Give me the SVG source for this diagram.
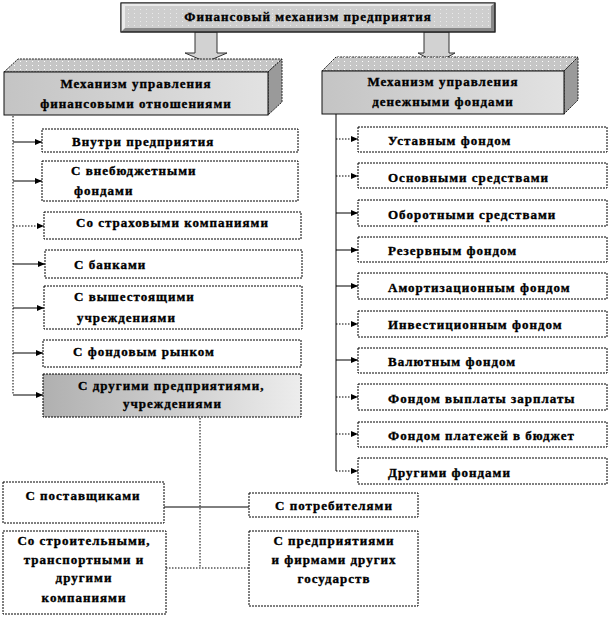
<svg xmlns="http://www.w3.org/2000/svg" width="611" height="617" viewBox="0 0 611 617">
<defs>
<style>
.t{font-family:"Liberation Serif","Times New Roman",serif;font-weight:bold;font-size:13px;letter-spacing:1px;fill:#000;stroke:#000;stroke-width:0.35}
.m{text-anchor:middle}
.box{fill:#fff;stroke:#000;stroke-width:1;stroke-dasharray:2 1}
.face{stroke:#222;stroke-width:1;stroke-dasharray:2 1}
.sl{fill:none;stroke:#000;stroke-width:1}
.dl{fill:none;stroke:#000;stroke-width:1;stroke-dasharray:1.5 1.5}
.ba{fill:#d2d2d2;stroke:#333;stroke-width:1}
</style>
<linearGradient id="gFront" x1="0" y1="0" x2="1" y2="0">
<stop offset="0" stop-color="#c4c4c4"/>
<stop offset="1" stop-color="#e2e2e2"/>
</linearGradient>
<linearGradient id="gItem" x1="0" y1="0" x2="1" y2="0">
<stop offset="0" stop-color="#b0b0b0"/>
<stop offset="0.5" stop-color="#cdcdcd"/>
<stop offset="1" stop-color="#ededed"/>
</linearGradient>
<pattern id="dots" width="6" height="4" patternUnits="userSpaceOnUse">
<rect x="2" y="1" width="1" height="1" fill="#ffffff"/>
</pattern>
<marker id="ah" markerWidth="7" markerHeight="6" refX="7" refY="3" orient="auto" markerUnits="userSpaceOnUse">
<path d="M0,0 L7,3 L0,6 z" fill="#000"/>
</marker>
</defs>

<g id="connectors">
<path class="ba" d="M195,32 L217,32 L217,53 L227,53 L206,62 L185,53 L195,53 z"/>
<path class="ba" d="M424,32 L449,32 L449,53 L455,53 L436.5,63 L418,53 L424,53 z"/>
<path class="dl" d="M13,116 L13,395"/>
<line class="sl" x1="13" y1="142" x2="42" y2="142" marker-end="url(#ah)"/>
<line class="sl" x1="13" y1="181" x2="42" y2="181" marker-end="url(#ah)"/>
<line class="dl" x1="13" y1="226" x2="44" y2="226" marker-end="url(#ah)"/>
<line class="sl" x1="13" y1="264" x2="45" y2="264" marker-end="url(#ah)"/>
<line class="sl" x1="13" y1="308" x2="44" y2="308" marker-end="url(#ah)"/>
<line class="sl" x1="13" y1="353" x2="43" y2="353" marker-end="url(#ah)"/>
<line class="sl" x1="13" y1="395" x2="43" y2="395" marker-end="url(#ah)"/>
<path class="sl" d="M336,114 L336,471"/>
<line class="dl" x1="336" y1="139" x2="358" y2="139" marker-end="url(#ah)"/>
<line class="dl" x1="336" y1="176" x2="358" y2="176" marker-end="url(#ah)"/>
<line class="sl" x1="336" y1="213" x2="358" y2="213" marker-end="url(#ah)"/>
<line class="sl" x1="336" y1="250" x2="358" y2="250" marker-end="url(#ah)"/>
<line class="sl" x1="336" y1="286" x2="358" y2="286" marker-end="url(#ah)"/>
<line class="dl" x1="336" y1="324" x2="358" y2="324" marker-end="url(#ah)"/>
<line class="sl" x1="336" y1="360" x2="358" y2="360" marker-end="url(#ah)"/>
<line class="dl" x1="336" y1="397" x2="358" y2="397" marker-end="url(#ah)"/>
<line class="dl" x1="336" y1="434" x2="358" y2="434" marker-end="url(#ah)"/>
<line class="dl" x1="336" y1="471" x2="358" y2="471" marker-end="url(#ah)"/>
<path class="dl" d="M200,418 L200,568"/>
<line class="sl" x1="164" y1="507" x2="249" y2="507"/>
<line class="dl" x1="166" y1="568" x2="249" y2="568"/>
</g>

<g id="top">
<rect x="121" y="3" width="374" height="29" fill="#888" stroke="#222" stroke-width="1"/>
<path d="M121,3 L495,3 L491,6 L125,6 L125,28 L121,32 z" fill="#ebebeb"/>
<rect x="125" y="6" width="366" height="22" fill="#cecece"/>
<rect x="125" y="6" width="366" height="22" fill="url(#dots)" opacity="0.6"/>
<rect x="121" y="3" width="374" height="29" fill="none" stroke="#222" stroke-width="1"/>
<text class="t m" x="308" y="21">Финансовый механизм предприятия</text>
</g>

<g id="mech-fin">
<path class="face" d="M4,72 L18,59 L282,59 L268,72 z" fill="#c6c6c6"/>
<path d="M4,72 L18,59 L282,59 L268,72 z" fill="url(#dots)"/>
<path class="face" d="M268,72 L282,59 L282,102 L268,115 z" fill="#9a9a9a"/>
<rect x="4" y="72" width="264" height="43" fill="url(#gFront)" stroke="#111" stroke-width="1"/>
<text class="t m" x="136" y="88">Механизм управления</text>
<text class="t m" x="136" y="108">финансовыми отношениями</text>
</g>

<g id="mech-fund">
<path class="face" d="M322,71 L336,57 L578,57 L564,71 z" fill="#c6c6c6"/>
<path d="M322,71 L336,57 L578,57 L564,71 z" fill="url(#dots)"/>
<path class="face" d="M564,71 L578,57 L578,100 L564,114 z" fill="#9a9a9a"/>
<rect x="322" y="71" width="242" height="43" fill="url(#gFront)" stroke="#111" stroke-width="1"/>
<text class="t m" x="443" y="86">Механизм управления</text>
<text class="t m" x="443" y="106">денежными фондами</text>
</g>

<g id="l1"><rect class="box" x="42" y="129" width="256" height="23"/><text class="t" x="72" y="146">Внутри предприятия</text></g>
<g id="l2"><rect class="box" x="42" y="161" width="256" height="40"/><text class="t" x="71" y="175">С внебюджетными</text><text class="t" x="74" y="195">фондами</text></g>
<g id="l3"><rect class="box" x="44" y="212" width="257" height="27"/><text class="t" x="76" y="227">Со страховыми компаниями</text></g>
<g id="l4"><rect class="box" x="45" y="250" width="257" height="28"/><text class="t" x="74" y="269">С банками</text></g>
<g id="l5"><rect class="box" x="44" y="286" width="258" height="43"/><text class="t" x="74" y="301">С вышестоящими</text><text class="t" x="77" y="322">учреждениями</text></g>
<g id="l6"><rect class="box" x="43" y="340" width="258" height="27"/><text class="t" x="73" y="356">С фондовым рынком</text></g>
<g id="l7"><rect class="box" x="43" y="374" width="258" height="43" style="fill:url(#gItem)"/><text class="t" x="78" y="390">С другими предприятиями,</text><text class="t" x="123" y="408">учреждениями</text></g>

<g id="r1"><rect class="box" x="358" y="127" width="249" height="25"/><text class="t" x="388" y="145">Уставным фондом</text></g>
<g id="r2"><rect class="box" x="358" y="163" width="249" height="25"/><text class="t" x="388" y="182">Основными средствами</text></g>
<g id="r3"><rect class="box" x="358" y="200" width="249" height="26"/><text class="t" x="388" y="219">Оборотными средствами</text></g>
<g id="r4"><rect class="box" x="358" y="237" width="249" height="25"/><text class="t" x="388" y="255">Резервным фондом</text></g>
<g id="r5"><rect class="box" x="358" y="273" width="249" height="26"/><text class="t" x="388" y="292">Амортизационным фондом</text></g>
<g id="r6"><rect class="box" x="358" y="311" width="249" height="26"/><text class="t" x="388" y="329">Инвестиционным фондом</text></g>
<g id="r7"><rect class="box" x="358" y="348" width="249" height="25"/><text class="t" x="388" y="366">Валютным фондом</text></g>
<g id="r8"><rect class="box" x="358" y="384" width="249" height="26"/><text class="t" x="388" y="403">Фондом выплаты зарплаты</text></g>
<g id="r9"><rect class="box" x="358" y="422" width="249" height="25"/><text class="t" x="388" y="440">Фондом платежей в бюджет</text></g>
<g id="r10"><rect class="box" x="358" y="458" width="249" height="26"/><text class="t" x="388" y="477">Другими фондами</text></g>

<g id="b1"><rect class="box" x="3" y="482" width="161" height="41"/><text class="t m" x="83" y="500">С поставщиками</text></g>
<g id="b2"><rect class="box" x="249" y="493" width="169" height="24"/><text class="t m" x="334" y="510">С потребителями</text></g>
<g id="b3"><rect class="box" x="3" y="531" width="163" height="83"/><text class="t m" x="84" y="545">Со строительными,</text><text class="t m" x="84" y="564">транспортными и</text><text class="t m" x="84" y="582">другими</text><text class="t m" x="84" y="602">компаниями</text></g>
<g id="b4"><rect class="box" x="249" y="531" width="169" height="75"/><text class="t m" x="334" y="545">С предприятиями</text><text class="t m" x="334" y="564">и фирмами других</text><text class="t m" x="334" y="583">государств</text></g>
</svg>
